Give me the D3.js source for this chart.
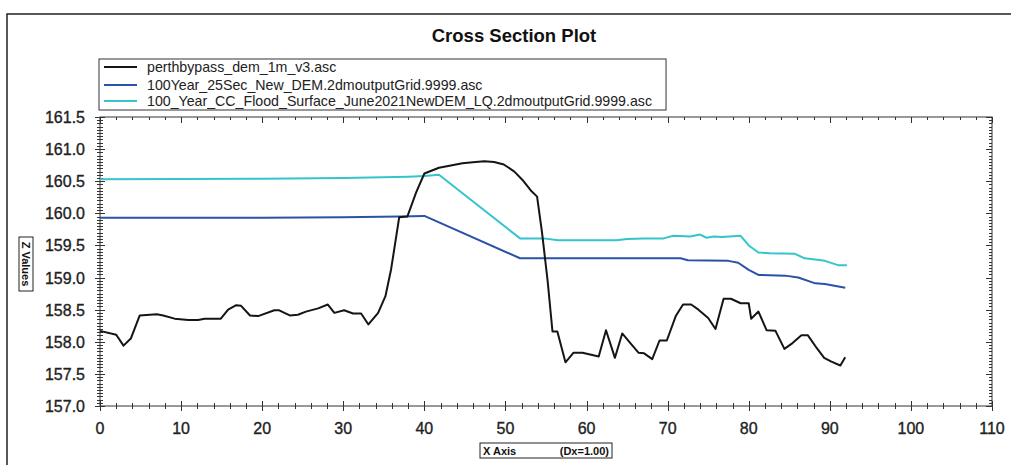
<!DOCTYPE html>
<html><head><meta charset="utf-8">
<script src="https://cdn.jsdelivr.net/npm/d3@7"></script>
<style>
html,body{margin:0;padding:0;background:#fff;}
text{font-family:"Liberation Sans",Arial,sans-serif;}
</style></head>
<body><svg id="c" width="1011" height="465"></svg>
<script>
const seriesNames = [
  "perthbypass_dem_1m_v3.asc",
  "100Year_25Sec_New_DEM.2dmoutputGrid.9999.asc",
  "100_Year_CC_Flood_Surface_June2021NewDEM_LQ.2dmoutputGrid.9999.asc"
];
const seriesColors = ["#151515", "#2a52a6", "#34c4cb"];

const demX = [0,2.0,2.9,3.8,4.9,7.0,7.8,9.2,10.9,12.1,12.9,14.9,15.8,16.8,17.4,18.5,19.5,21.5,22.1,23.4,24.4,25.4,26.9,28.1,28.9,30.1,31.2,32.2,33.1,34.3,35.2,35.9,36.9,37.9,39.0,40.0,41.8,43.1,44.7,46.3,47.4,48.6,49.8,51.1,52.1,53.1,53.9,54.5,55.2,55.8,56.4,57.4,58.4,59.5,61.5,62.4,63.5,64.4,65.4,66.4,67.1,68.1,69.0,69.9,71.0,71.9,72.9,73.8,75.0,75.9,76.9,77.8,79.0,80.0,80.3,81.2,82.2,83.3,84.4,85.4,86.5,87.3,88.4,89.3,90.2,91.3,91.9];
const demZ = [158.17,158.11,157.94,158.05,158.41,158.43,158.41,158.36,158.34,158.34,158.36,158.36,158.50,158.57,158.56,158.41,158.40,158.49,158.49,158.41,158.42,158.47,158.52,158.58,158.45,158.49,158.44,158.44,158.27,158.45,158.71,159.13,159.94,159.95,160.33,160.62,160.71,160.74,160.78,160.80,160.81,160.80,160.76,160.65,160.52,160.36,160.26,159.71,158.95,158.16,158.16,157.68,157.83,157.83,157.77,158.18,157.75,158.13,157.98,157.83,157.82,157.73,158.02,158.02,158.40,158.58,158.58,158.50,158.37,158.20,158.67,158.67,158.60,158.60,158.36,158.47,158.18,158.17,157.89,157.98,158.10,158.10,157.90,157.75,157.69,157.63,157.76];

const y100X = [0,20,30,37,40,51.8,60,71.6,72.5,77.5,78.7,80.0,81.2,84.5,86.1,88.2,89.4,91.9];
const y100Z = [159.93,159.93,159.94,159.95,159.96,159.30,159.30,159.30,159.27,159.26,159.23,159.12,159.04,159.03,159.00,158.91,158.90,158.84];

const ccX = [0,20,30,38,40,41.8,51.8,54.7,56.5,63.7,65.0,67.0,69.5,70.7,72.8,74.0,74.8,75.7,76.7,79.0,80.0,81.2,82.6,85.7,86.9,88.2,89.4,91.1,92.1];
const ccZ = [160.53,160.54,160.55,160.57,160.58,160.60,159.61,159.61,159.58,159.58,159.60,159.61,159.61,159.65,159.64,159.67,159.62,159.64,159.63,159.65,159.50,159.39,159.38,159.37,159.30,159.28,159.26,159.19,159.19];

const xTicks = [0,10,20,30,40,50,60,70,80,90,100,110];
const yTicks = [157.0,157.5,158.0,158.5,159.0,159.5,160.0,160.5,161.0,161.5];

const svg = d3.select("#c");
const L=100, R=992, T=117, B=406;
const x = d3.scaleLinear().domain([0,110]).range([L,R]);
const y = d3.scaleLinear().domain([157,161.5]).range([B,T]);

// outer border
svg.append("path").attr("d",`M7,465 V14 H1011`).attr("fill","none").attr("stroke","#222").attr("stroke-width",1.5);

// title
svg.append("text").attr("x",514).attr("y",42).attr("text-anchor","middle")
  .attr("font-size",18.5).attr("font-weight","bold").attr("fill","#111").text("Cross Section Plot");

// frame
svg.append("rect").attr("x",L).attr("y",T).attr("width",R-L).attr("height",B-T)
  .attr("fill","none").attr("stroke","#333").attr("stroke-width",1);

const g = svg.append("g").attr("stroke","#333").attr("stroke-width",1);
const xMinor = d3.range(0,110.001,2);
xMinor.forEach(v=>{
  const major = Math.abs(v%10)<1e-6;
  const px = Math.round(x(v))+0.5;
  const len = major?5:3;
  g.append("line").attr("x1",px).attr("x2",px).attr("y1",B-len).attr("y2",B+len);
  g.append("line").attr("x1",px).attr("x2",px).attr("y1",T).attr("y2",T+(major?6:3));
});
const yMinor = d3.range(0,91).map(i=>157+i*0.05);
yMinor.forEach((v,i)=>{
  const major = i%10===0;
  const py = Math.round(y(v))+0.5;
  const len = major?5:3;
  g.append("line").attr("y1",py).attr("y2",py).attr("x1",L-len).attr("x2",L+len);
  g.append("line").attr("y1",py).attr("y2",py).attr("x1",R).attr("x2",R-(major?6:3));
});

// tick labels
svg.append("g").selectAll("text").data(xTicks).join("text")
  .attr("x",d=>x(d)).attr("y",434).attr("text-anchor","middle")
  .attr("font-size",16).attr("fill","#222").attr("stroke","#222").attr("stroke-width",0.35).text(d=>d);
svg.append("g").selectAll("text").data(yTicks).join("text")
  .attr("x",85).attr("y",d=>y(d)+6).attr("text-anchor","end")
  .attr("font-size",16).attr("fill","#222").attr("stroke","#222").attr("stroke-width",0.35).text(d=>d.toFixed(1));

// series
const line = d3.line().x(d=>x(d[0])).y(d=>y(d[1]));
const series = [d3.zip(demX,demZ), d3.zip(y100X,y100Z), d3.zip(ccX,ccZ)];
[2,1,0].forEach(i=>{
  svg.append("path").datum(series[i]).attr("d",line).attr("fill","none")
    .attr("stroke",seriesColors[i]).attr("stroke-width",2).attr("stroke-linejoin","round");
});

// legend
const lg = svg.append("g");
const lbox = lg.append("rect").attr("x",99).attr("y",59).attr("fill","#fff").attr("stroke","#333").attr("stroke-width",1);
const rows = [67,85,101];
let maxW = 0;
seriesNames.forEach((n,i)=>{
  lg.append("line").attr("x1",104).attr("x2",137).attr("y1",rows[i]).attr("y2",rows[i])
    .attr("stroke",seriesColors[i]).attr("stroke-width",2);
  const t = lg.append("text").attr("x",147).attr("y",rows[i]+5).attr("font-size",14.2).attr("fill","#222").text(n);
  maxW = Math.max(maxW, t.node().getComputedTextLength());
});
lbox.attr("width",147+maxW+14-99).attr("height",51);

// Z Values label box
const zg = svg.append("g").attr("transform","translate(26,264) rotate(90)");
zg.append("rect").attr("x",-27).attr("y",-7).attr("width",54).attr("height",14).attr("fill","#fff").attr("stroke","#222");
zg.append("text").attr("x",0).attr("y",4).attr("text-anchor","middle").attr("font-size",11).attr("font-weight","bold").attr("fill","#111").text("Z Values");

// X Axis label box
svg.append("rect").attr("x",480).attr("y",443).attr("width",132).attr("height",15).attr("fill","#fff").attr("stroke","#222");
svg.append("text").attr("x",483).attr("y",455).attr("font-size",11).attr("font-weight","bold").attr("fill","#111").text("X Axis");
svg.append("text").attr("x",609).attr("y",455).attr("text-anchor","end").attr("font-size",11).attr("font-weight","bold").attr("fill","#111").text("(Dx=1.00)");
</script>
</body></html>
